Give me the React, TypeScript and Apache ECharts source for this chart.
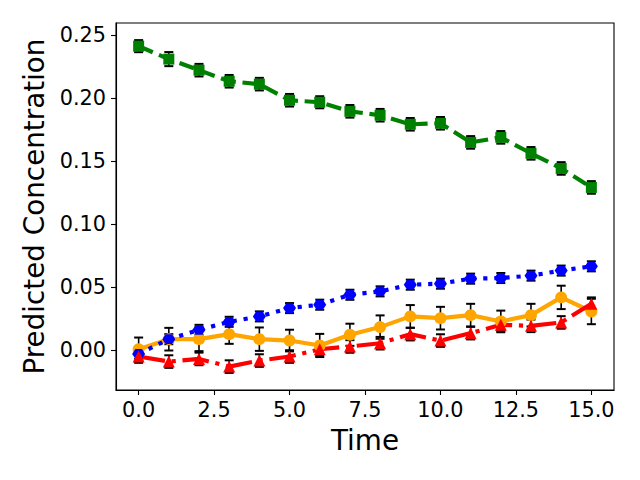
import React, { useEffect, useRef } from "react";
import * as echarts from "echarts";

const times = [0, 1, 2, 3, 4, 5, 6, 7, 8, 9, 10, 11, 12, 13, 14, 15];

const greenValues = [0.2414, 0.2311, 0.2223, 0.2135, 0.2112, 0.1984, 0.1968, 0.1896, 0.1865, 0.1793, 0.1801, 0.1649, 0.1689, 0.1562, 0.1442, 0.1291];
const greenErrors = [0.0048, 0.0056, 0.005, 0.005, 0.005, 0.005, 0.0048, 0.005, 0.005, 0.005, 0.005, 0.005, 0.005, 0.005, 0.005, 0.005];

const orangeValues = [0.0005, 0.0085, 0.0085, 0.0125, 0.0085, 0.0074, 0.0035, 0.012, 0.0181, 0.0266, 0.0252, 0.0276, 0.0226, 0.0276, 0.0417, 0.0305];
const orangeErrors = [0.0093, 0.009, 0.0095, 0.0077, 0.0093, 0.0086, 0.0092, 0.0088, 0.0093, 0.009, 0.009, 0.009, 0.0086, 0.009, 0.0093, 0.0101];

const blueValues = [-0.0032, 0.0085, 0.0159, 0.0223, 0.0266, 0.0332, 0.0359, 0.0438, 0.0465, 0.0518, 0.0526, 0.0566, 0.0571, 0.059, 0.063, 0.0664];
const blueErrors = [0.004, 0.004, 0.004, 0.004, 0.004, 0.004, 0.004, 0.004, 0.004, 0.004, 0.004, 0.004, 0.004, 0.004, 0.004, 0.004];

const redValues = [-0.0053, -0.0093, -0.0072, -0.0133, -0.0085, -0.0053, 0.0005, 0.0027, 0.0053, 0.0125, 0.0074, 0.0133, 0.0199, 0.0191, 0.0218, 0.0367];
const redErrors = [0.005, 0.005, 0.005, 0.005, 0.005, 0.005, 0.005, 0.005, 0.005, 0.005, 0.005, 0.005, 0.005, 0.005, 0.005, 0.005];

const xTicks = [0, 2.5, 5, 7.5, 10, 12.5, 15];
const yTicks = [0, 0.05, 0.1, 0.15, 0.2, 0.25];

const FONT = "DejaVu Sans";
const PT = 100 / 72;
const LW = 3 * PT;

function lineSeries(name: string, values: number[], color: string, type: any, symbol: string, symbolSize: any) {
  return {
    name,
    type: "line",
    data: times.map((t, i) => [t, values[i]]),
    symbol,
    symbolSize,
    symbolKeepAspect: true,
    showAllSymbol: true,
    itemStyle: { color, borderWidth: 0 },
    lineStyle: { color, width: LW, type, cap: "butt" },
  };
}

function errSeries(values: number[], errors: number[]) {
  return {
    type: "custom",
    data: times.map((t, i) => [t, values[i] - errors[i], values[i] + errors[i]]),
    renderItem: (params: any, api: any) => {
      const x = api.value(0);
      const lo = api.coord([x, api.value(1)]);
      const hi = api.coord([x, api.value(2)]);
      const cw = 4.5;
      const style = { stroke: "#000", lineWidth: 1.6 };
      return {
        type: "group",
        children: [
          { type: "line", shape: { x1: lo[0], y1: lo[1], x2: hi[0], y2: hi[1] }, style },
          { type: "line", shape: { x1: lo[0] - cw, y1: lo[1], x2: lo[0] + cw, y2: lo[1] }, style: { stroke: "#000", lineWidth: 2 } },
          { type: "line", shape: { x1: hi[0] - cw, y1: hi[1], x2: hi[0] + cw, y2: hi[1] }, style: { stroke: "#000", lineWidth: 2 } },
        ],
      };
    },
    encode: { x: 0, y: [1, 2] },
    silent: true,
  };
}

const hexPath = "path://M0,0.866L0.5,0L1.5,0L2,0.866L1.5,1.732L0.5,1.732Z";

export default function App() {
  const ref = useRef<HTMLDivElement>(null);
  useEffect(() => {
    if (!ref.current) return;
    const chart = echarts.init(ref.current, undefined, { renderer: "svg" });
    const axisCommon = {
      axisLine: { show: true, onZero: false, lineStyle: { color: "#000", width: 1.1 } },
      splitLine: { show: false },
      nameTextStyle: { fontFamily: FONT, fontSize: 27.8, color: "#000" },
      nameLocation: "middle",
    };
    chart.setOption({
      animation: false,
      backgroundColor: "#fff",
      grid: { left: 116, right: 26, top: 23, bottom: 90, show: true, borderColor: "#000", borderWidth: 1.1, backgroundColor: "transparent" },
      xAxis: {
        type: "value",
        min: -0.75,
        max: 15.75,
        name: "Time",
        nameGap: 36,
        ...axisCommon,
        axisTick: { show: true, inside: false, length: 5, lineStyle: { color: "#000", width: 1.1 }, customValues: xTicks },
        axisLabel: { fontFamily: FONT, fontSize: 20.8, color: "#000", margin: 9, customValues: xTicks, formatter: (v: number) => v.toFixed(1) },
      },
      yAxis: {
        type: "value",
        min: -0.0319,
        max: 0.2598,
        name: "Predicted Concentration",
        nameGap: 66,
        ...axisCommon,
        axisTick: { show: true, inside: false, length: 5, lineStyle: { color: "#000", width: 1.1 }, customValues: yTicks },
        axisLabel: { fontFamily: FONT, fontSize: 20.8, color: "#000", margin: 10, customValues: yTicks, formatter: (v: number) => v.toFixed(2) },
      },
      series: [
        lineSeries("green", greenValues, "#008000", [15.4, 6.7], "rect", 11),
        errSeries(greenValues, greenErrors),
        lineSeries("orange", orangeValues, "#ffa500", "solid", "circle", 12),
        errSeries(orangeValues, orangeErrors),
        lineSeries("blue", blueValues, "#0000ff", [4.2, 6.9], hexPath, [13, 11.3]),
        errSeries(blueValues, blueErrors),
        lineSeries("red", redValues, "#ff0000", [26.7, 6.7, 4.2, 6.7], "triangle", 12),
        errSeries(redValues, redErrors),
      ],
    });
    return () => chart.dispose();
  }, []);
  return <div ref={ref} style={{ width: 640, height: 480, position: "absolute", left: 0, top: 0 }} />;
}
